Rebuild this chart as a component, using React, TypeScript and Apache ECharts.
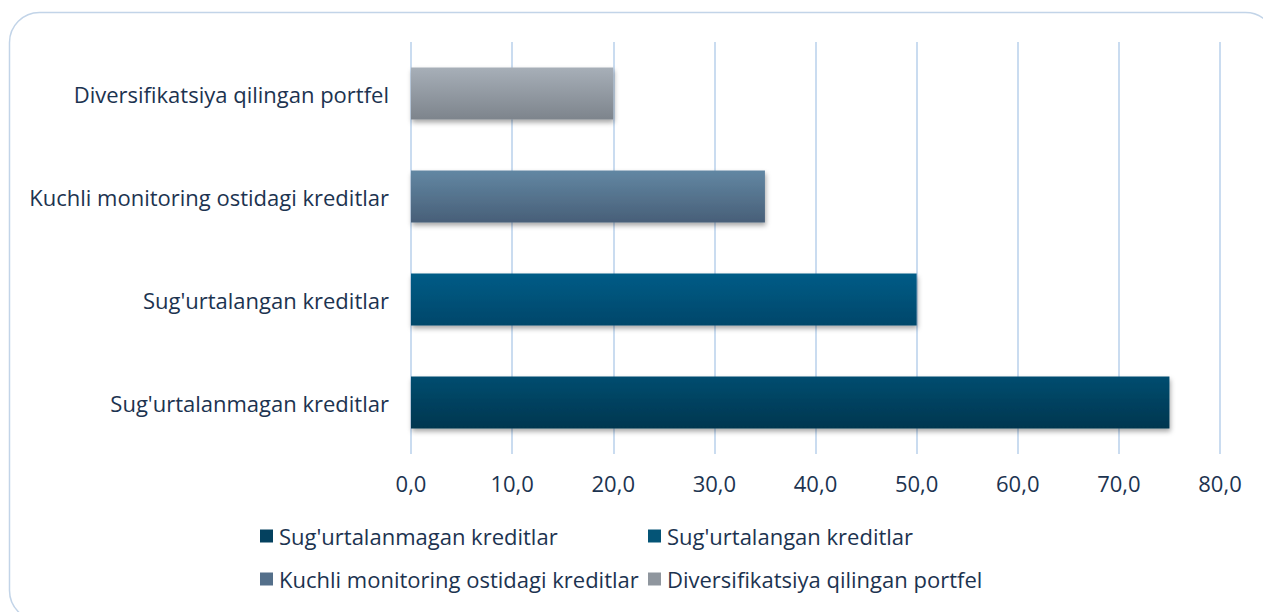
import React, { useEffect, useRef } from "react";
import * as echarts from "echarts";

const categories = [
  "Sug'urtalanmagan kreditlar",
  "Sug'urtalangan kreditlar",
  "Kuchli monitoring ostidagi kreditlar",
  "Diversifikatsiya qilingan portfel",
];
const values = [75, 50, 35, 20];
const topColors = ["#054d70", "#055c87", "#6287a3", "#a7afb8"];
const bottomColors = ["#03364f", "#03476a", "#485f78", "#7d848c"];
const legendIconColors = ["#04415f", "#045476", "#546f8a", "#8f969e"];
const xTicks = [0, 10, 20, 30, 40, 50, 60, 70, 80];

const FONT = "'Open Sans', 'Noto Sans', sans-serif";
const TEXT = "#1c3350";

export default function App() {
  const ref = useRef<HTMLDivElement>(null);
  useEffect(() => {
    document.body.style.margin = "0";
    const chart = echarts.init(ref.current!, null, { renderer: "svg" });
    const series = categories.map((name, i) => ({
      name,
      type: "bar",
      stack: "all",
      barWidth: 52,
      data: categories.map((_, j) => (j === i ? values[i] : null)),
      itemStyle: {
        color: new echarts.graphic.LinearGradient(0, 0, 0, 1, [
          { offset: 0, color: topColors[i] },
          { offset: 1, color: bottomColors[i] },
        ]),
        shadowColor: "rgba(0,0,0,0.35)",
        shadowBlur: 5,
        shadowOffsetX: 1,
        shadowOffsetY: 3,
      },
    }));
    const legendPos = [
      { left: 260, top: 525 },
      { left: 648, top: 525 },
      { left: 260, top: 568 },
      { left: 648, top: 568 },
    ];
    const legends = categories.map((name, i) => ({
      data: [{ name, itemStyle: { color: legendIconColors[i] } }],
      left: legendPos[i].left,
      top: legendPos[i].top,
      icon: "rect",
      itemWidth: 13,
      itemHeight: 13,
      itemGap: 6,
      padding: 0,
      textStyle: { fontFamily: FONT, fontSize: 22, color: TEXT, padding: [0, 0, 0, 1] },
      selectedMode: false,
    }));
    chart.setOption({
      animation: false,
      backgroundColor: "#ffffff",
      graphic: [
        {
          type: "rect",
          shape: { x: 9.5, y: 12.5, width: 1266, height: 608, r: 30 },
          style: { fill: "none", stroke: "#c2d4e8", lineWidth: 1.5 },
          silent: true,
        },
      ],
      grid: { left: 411, right: 43, top: 42, bottom: 158 },
      xAxis: {
        type: "value",
        min: xTicks[0],
        max: xTicks[xTicks.length - 1],
        interval: 10,
        axisLine: { show: false },
        axisTick: { show: false },
        splitLine: { show: true, lineStyle: { color: "#cadcf0", width: 2 } },
        axisLabel: {
          margin: 18,
          fontFamily: FONT,
          fontSize: 22,
          color: TEXT,
          formatter: (v: number) => v.toFixed(1).replace(".", ","),
        },
      },
      yAxis: {
        type: "category",
        data: categories,
        axisLine: { show: false },
        axisTick: { show: false },
        axisLabel: { margin: 22, fontFamily: FONT, fontSize: 22, color: TEXT },
      },
      legend: legends,
      series,
    });
    return () => chart.dispose();
  }, []);
  return (
    <div
      ref={ref}
      style={{ position: "fixed", left: 0, top: 0, width: 1263, height: 612 }}
    />
  );
}
